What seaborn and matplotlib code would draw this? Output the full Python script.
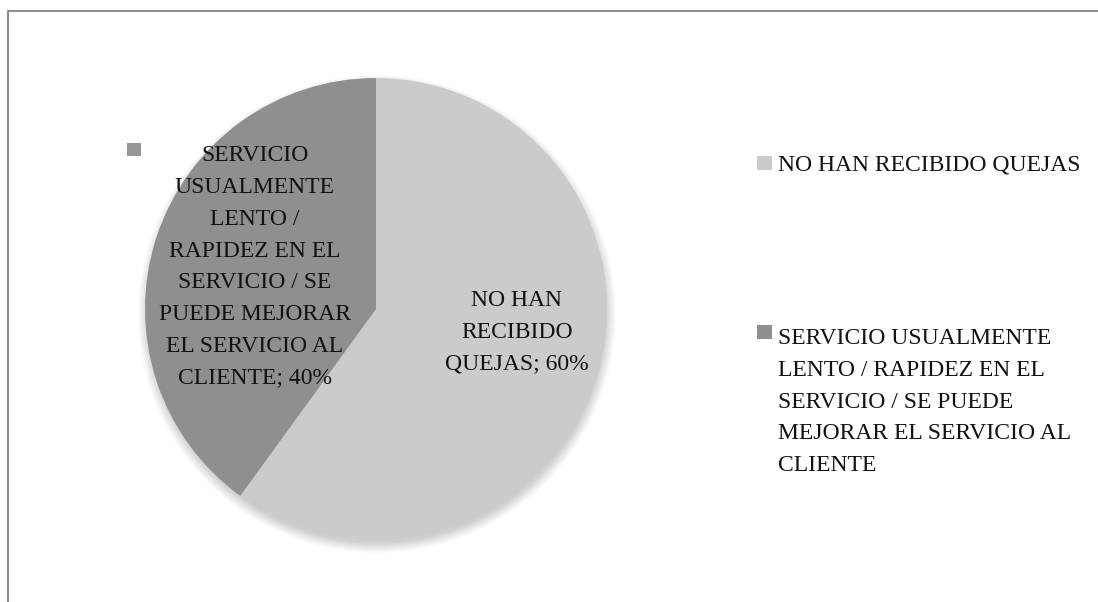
import matplotlib
matplotlib.use("Agg")
import matplotlib.pyplot as plt
from matplotlib.patches import Rectangle, Circle
from matplotlib.lines import Line2D
import seaborn as sns

sns.set_theme(style="white")
plt.rcParams["font.family"] = ["Liberation Serif", "DejaVu Serif"]

# Survey answers and their shares (%)
categories = [
    "NO HAN RECIBIDO QUEJAS",
    "SERVICIO USUALMENTE LENTO / RAPIDEZ EN EL SERVICIO / SE PUEDE MEJORAR EL SERVICIO AL CLIENTE",
]
values = [60, 40]
slice_labels = [
    "NO HAN\nRECIBIDO\nQUEJAS; 60%",
    "SERVICIO\nUSUALMENTE\nLENTO /\nRAPIDEZ EN EL\nSERVICIO / SE\nPUEDE MEJORAR\nEL SERVICIO AL\nCLIENTE; 40%",
]
legend_labels = [
    "NO HAN RECIBIDO QUEJAS",
    "SERVICIO USUALMENTE\nLENTO / RAPIDEZ EN EL\nSERVICIO / SE PUEDE\nMEJORAR EL SERVICIO AL\nCLIENTE",
]
colors = ["#cbcbcb", "#8f8f8f"]
text_color = "#111111"

W, H = 1098, 602
fig = plt.figure(figsize=(W / 100, H / 100), dpi=100)
fig.patch.set_facecolor("white")

# pie axes: centre (376, 309) px, radius 231 px, with a little room for the shadow
cx, cy, r = 376, 309, 231
m = 1.12
ax = fig.add_axes([(cx - r * m) / W, (H - cy - r * m) / H, 2 * r * m / W, 2 * r * m / H])
ax.axis("off")

# soft drop shadow under the pie
for k in range(12):
    ax.add_patch(Circle((0.004, -0.022), 0.99 + k * 0.004, facecolor="black",
                        edgecolor="none", alpha=0.016, zorder=0, clip_on=False))

wedges, _ = ax.pie(values, colors=colors, startangle=90, counterclock=False,
                   radius=1.0, wedgeprops=dict(linewidth=0, zorder=2))
ax.set_xlim(-m, m)
ax.set_ylim(-m, m)
ax.set_aspect("equal")

fs = 17
ls = 1.67
ax.text(0.610, -0.10, slice_labels[0], ha="center", va="center", fontsize=fs,
        color=text_color, linespacing=ls, zorder=5)
ax.text(-0.524, 0.182, slice_labels[1], ha="center", va="center", fontsize=fs,
        color=text_color, linespacing=ls, zorder=5)

# small key square beside the 40% label
fig.patches.append(Rectangle((127 / W, 1 - 156 / H), 14 / W, 13 / H,
                             transform=fig.transFigure, facecolor="#969696",
                             edgecolor="none", figure=fig))

# legend: (square centre y, last-line baseline y) in px
leg_items = [(163, 171), (332, 471)]
for (sq_y, base_y), lab, col in zip(leg_items, legend_labels, colors):
    fig.patches.append(Rectangle((757 / W, 1 - (sq_y + 7) / H), 15 / W, 14 / H,
                                 transform=fig.transFigure, facecolor=col,
                                 edgecolor="none", figure=fig))
    fig.text(778 / W, 1 - base_y / H, lab, ha="left", va="baseline", fontsize=fs,
             color=text_color, linespacing=ls)

# chart frame (left and top edges)
fig.lines.append(Line2D([8 / W, 8 / W, 1.0], [0.0, 1 - 11 / H, 1 - 11 / H],
                        transform=fig.transFigure, color="#8c8c8c", linewidth=1.5))

fig.savefig("out.png", dpi=100, facecolor="white")
